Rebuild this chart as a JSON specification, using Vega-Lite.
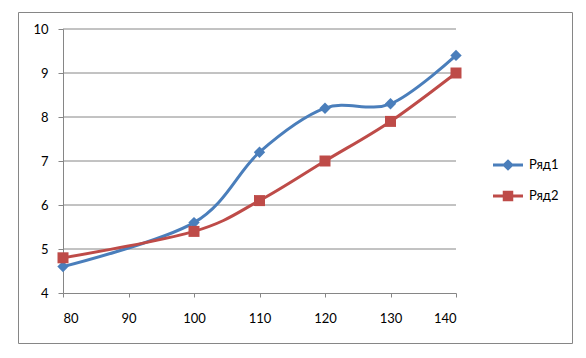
{
  "$schema": "https://vega.github.io/schema/vega-lite/v6.json",
  "width": 554,
  "height": 331,
  "autosize": {"type": "none"},
  "padding": {"left": 18, "top": 12, "right": 14, "bottom": 15},
  "background": "white",
  "config": {
    "view": {"stroke": "#868686", "strokeWidth": 1, "fill": "white"},
    "font": "Lato",
    "axis": {
      "grid": false,
      "domainColor": "#868686",
      "domainWidth": 1,
      "tickColor": "#868686",
      "tickWidth": 1,
      "labelFont": "Lato",
      "labelFontSize": 13,
      "labelColor": "#000000"
    },
    "axisX": {"offset": -50, "tickSize": 4, "labelPadding": 15},
    "axisY": {"offset": -45, "tickSize": 5, "labelPadding": 10}
  },
  "datasets": {
    "series": [
      {"x": 80, "y": 4.6, "s": "Ряд1"},
      {"x": 100, "y": 5.6, "s": "Ряд1"},
      {"x": 110, "y": 7.2, "s": "Ряд1"},
      {"x": 120, "y": 8.2, "s": "Ряд1"},
      {"x": 130, "y": 8.3, "s": "Ряд1"},
      {"x": 140, "y": 9.4, "s": "Ряд1"},
      {"x": 80, "y": 4.8, "s": "Ряд2"},
      {"x": 100, "y": 5.4, "s": "Ряд2"},
      {"x": 110, "y": 6.1, "s": "Ряд2"},
      {"x": 120, "y": 7.0, "s": "Ряд2"},
      {"x": 130, "y": 7.9, "s": "Ряд2"},
      {"x": 140, "y": 9.0, "s": "Ряд2"}
    ],
    "grid": [{"v": 5}, {"v": 6}, {"v": 7}, {"v": 8}, {"v": 9}, {"v": 10}]
  },
  "layer": [
    {
      "data": {"name": "grid"},
      "mark": {"type": "rule", "color": "#868686", "strokeWidth": 1},
      "encoding": {
        "y": {"field": "v", "type": "quantitative", "title": null,
              "scale": {"domain": [4, 10], "range": [281, 17], "nice": false, "zero": false},
              "axis": {"values": [4, 5, 6, 7, 8, 9, 10], "format": "d"}},
        "x": {"datum": 80, "type": "quantitative", "title": null,
              "scale": {"domain": [80, 140], "range": [45, 438], "nice": false, "zero": false},
              "axis": {"values": [80, 90, 100, 110, 120, 130, 140], "format": "d"}},
        "x2": {"datum": 140}
      }
    },
    {
      "data": {"name": "series"},
      "transform": [{"filter": "datum.s === 'Ряд1'"}],
      "mark": {"type": "line", "interpolate": "cardinal", "strokeWidth": 3, "color": "#4A7EBB"},
      "encoding": {
        "x": {"field": "x", "type": "quantitative", "title": null},
        "y": {"field": "y", "type": "quantitative", "title": null}
      }
    },
    {
      "data": {"name": "series"},
      "transform": [{"filter": "datum.s === 'Ряд2'"}],
      "mark": {"type": "line", "interpolate": "cardinal", "strokeWidth": 3, "color": "#BE4B48"},
      "encoding": {
        "x": {"field": "x", "type": "quantitative", "title": null},
        "y": {"field": "y", "type": "quantitative", "title": null}
      }
    },
    {
      "data": {"name": "series"},
      "transform": [{"filter": "datum.s === 'Ряд1'"}],
      "mark": {"type": "point", "filled": true, "opacity": 1, "shape": "diamond", "size": 130, "color": "#4A7EBB"},
      "encoding": {
        "x": {"field": "x", "type": "quantitative", "title": null},
        "y": {"field": "y", "type": "quantitative", "title": null}
      }
    },
    {
      "data": {"name": "series"},
      "transform": [{"filter": "datum.s === 'Ряд2'"}],
      "mark": {"type": "point", "filled": true, "opacity": 1, "shape": "square", "size": 121, "color": "#BE4B48"},
      "encoding": {
        "x": {"field": "x", "type": "quantitative", "title": null},
        "y": {"field": "y", "type": "quantitative", "title": null}
      }
    },
    {
      "data": {"name": "series"},
      "mark": {"type": "point", "filled": true, "opacity": 0.001},
      "encoding": {
        "x": {"field": "x", "type": "quantitative", "title": null},
        "y": {"field": "y", "type": "quantitative", "title": null},
        "color": {"field": "s", "type": "nominal", "title": null,
                  "scale": {"domain": ["Ряд1", "Ряд2"], "range": ["#4A7EBB", "#BE4B48"]},
                  "legend": {
                    "orient": "none", "legendX": 481, "legendY": 144, "title": null,
                    "padding": 0, "symbolSize": 225, "symbolStrokeWidth": 3, "symbolOpacity": 1,
                    "rowPadding": 11, "labelOffset": 12, "labelFontSize": 13,
                    "labelFont": "Lato", "labelColor": "#000000"
                  }},
        "stroke": {"field": "s", "type": "nominal", "title": null,
                   "scale": {"domain": ["Ряд1", "Ряд2"], "range": ["#4A7EBB", "#BE4B48"]},
                   "legend": {
                     "orient": "none", "legendX": 481, "legendY": 144, "title": null,
                     "padding": 0, "symbolSize": 225, "symbolStrokeWidth": 3, "symbolOpacity": 1,
                     "rowPadding": 11, "labelOffset": 12, "labelFontSize": 13,
                     "labelFont": "Lato", "labelColor": "#000000"
                   }},
        "shape": {"field": "s", "type": "nominal", "title": null,
                  "scale": {"domain": ["Ряд1", "Ряд2"],
                            "range": ["M-2,0L2,0M0,-0.5L0.5,0L0,0.5L-0.5,0Z", "M-2,0L2,0M-0.5,-0.5L0.5,-0.5L0.5,0.5L-0.5,0.5Z"]},
                  "legend": {
                    "orient": "none", "legendX": 481, "legendY": 144, "title": null,
                    "padding": 0, "symbolSize": 225, "symbolStrokeWidth": 3, "symbolOpacity": 1,
                    "rowPadding": 11, "labelOffset": 12, "labelFontSize": 13,
                    "labelFont": "Lato", "labelColor": "#000000"
                  }}
      }
    }
  ]
}
